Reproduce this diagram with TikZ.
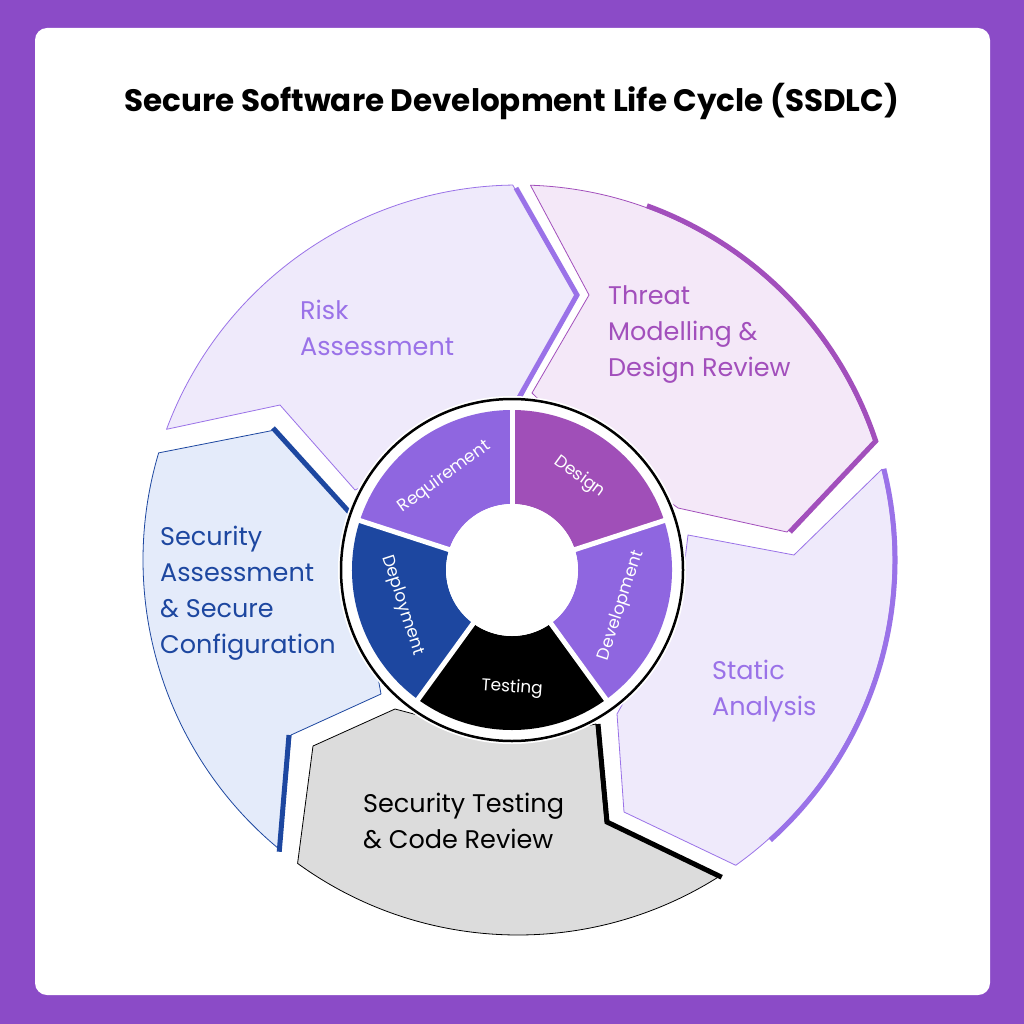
\documentclass[tikz,border=0pt]{standalone}
\usepackage{fontspec}
\setmainfont{Poppins}
\usetikzlibrary{calc}
\definecolor{bgpurple}{HTML}{8B4BC7}
\definecolor{lavfill}{HTML}{EFEAFB}
\definecolor{lavline}{HTML}{9A72E8}
\definecolor{pinkfill}{HTML}{F4E8F8}
\definecolor{pinkline}{HTML}{A24FBC}
\definecolor{bluefill}{HTML}{E4EBFA}
\definecolor{blueline}{HTML}{1D47A0}
\definecolor{greyfill}{HTML}{DCDCDC}
\definecolor{reqcol}{HTML}{8F66E0}
\definecolor{descol}{HTML}{A04FB8}

\begin{document}
\begin{tikzpicture}[
    x=1pt, y=-1pt,
    phase/.style = {line width=0.8pt, line join=round},
    edge/.style = {line width=5pt, line join=miter},
    phasetext/.style = {anchor=north west, align=left, inner sep=0pt,
font=\fontsize{25.5}{36}\selectfont},
    stage/.style = {text=white, font=\fontsize{17}{20}\selectfont}
]

  \fill[bgpurple] (0,0) rectangle (1024,1024);
  \fill[white, rounded corners=12pt] (35,28) rectangle (990,995);

  \node (title) at (512,101) {\fontsize{31}{36}\selectfont\bfseries Secure Software Development Life Cycle (SSDLC)};

  \coordinate (c) at (518,560);

  % outer phases
  \draw[phase, draw=lavline, fill=lavfill] ($(c)+(200.4:375)$) arc[start angle=200.4, end angle=269.2, radius=375]
    -- (575,295) -- (510,420) -- (355,490) -- (280,405) -- cycle;
  \draw[edge, lavline] (516,188) -- (577,295) -- (512,410);

  \draw[phase, draw=pinkline, fill=pinkfill] ($(c)+(271.9:375)$) arc[start angle=271.9, end angle=341.6, radius=375]
    -- (787,532) -- (678,508) -- (560,420) -- (532,393) -- (589,295) -- cycle;
  \draw[edge, pinkline] ($(c)+(290:377)$) arc[start angle=290, end angle=341.6, radius=377] -- (790,532);

  \draw[phase, draw=lavline, fill=lavfill] ($(c)+(346:375)$) arc[start angle=346, end angle=414.5, radius=375]
    -- (624,812) -- (617,714) -- (680,600) -- (688,535) -- (794,555) -- cycle;
  \draw[edge, lavline] ($(c)+(346:377)$) arc[start angle=346, end angle=408, radius=377];

  \draw[phase, draw=black, fill=greyfill] ($(c)+(57.3:375)$) arc[start angle=57.3, end angle=126, radius=375]
    -- (313,746) -- (395,709) -- (512,740) -- (596,724) -- (605,822) -- cycle;
  \draw[edge, black] ($(c)+(57.3:377)$) -- (607,822) -- (598,724);

  \draw[phase, draw=blueline, fill=bluefill] ($(c)+(129.3:375)$) arc[start angle=129.3, end angle=196.6, radius=375]
    -- (275,430) -- (348,511) -- (381,694) -- (291,735) -- cycle;
  \draw[edge, blueline] (273,428) -- (350,513);
  \draw[edge, blueline] (289,735) -- ($(c)+(129.3:377)$);

  % labels of outer phases
  \node (risk)   [phasetext, text=lavline]  at (300,300) {Risk\\Assessment};
  \node (threat) [phasetext, text=pinkline] at (608,285) {Threat\\Modelling \&\\Design Review};
  \node (secass) [phasetext, text=blueline] at (160,526) {Security\\Assessment\\\& Secure\\Configuration};
  \node (static) [phasetext, text=lavline]  at (712,660) {Static\\Analysis};
  \node (sectest)[phasetext, text=black]    at (363,793) {Security Testing\\\& Code Review};

  % inner wheel
  \coordinate (w) at (512,570);
  \fill[white] (w) circle[radius=174];
  \draw[line width=2.5pt] (w) circle[radius=171];
  \foreach \a/\col in {-90/descol, -18/reqcol, 54/black, 126/blueline, 198/reqcol}
    \fill[\col] ($(w)+(\a:160)$) arc[start angle=\a, end angle=\a+72, radius=160]
      -- ($(w)+(\a+72:66)$) arc[start angle=\a+72, end angle=\a, radius=66] -- cycle;
  \foreach \a in {-90,-18,54,126,198}
    \draw[white, line width=5pt] ($(w)+(\a:60)$) -- ($(w)+(\a:165)$);
  \fill[white] (w) circle[radius=66];

  \node (design) [stage, rotate=-36] at ($(w)+(-54:115)$) {Design};
  \node (devel)  [stage, rotate=72]  at ($(w)+(18:115)$)  {Development};
  \node (testing)[stage, rotate=-4]  at ($(w)+(90:118)$)  {Testing};
  \node (deploy) [stage, rotate=-72] at ($(w)+(162:115)$) {Deployment};
  \node (req)    [stage, rotate=36]  at ($(w)+(234:115)$) {Requirement};

\end{tikzpicture}
\end{document}
